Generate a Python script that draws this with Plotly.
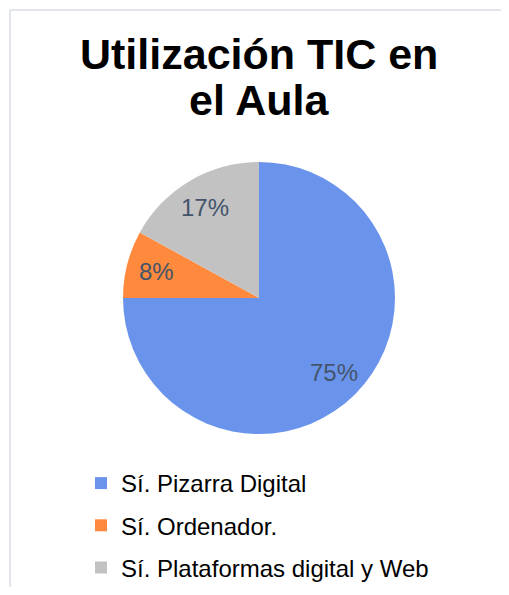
import math
import plotly.graph_objects as go

# Data
categories = ["Sí. Pizarra Digital", "Sí. Ordenador.", "Sí. Plataformas digital y Web"]
values = [75, 8, 17]
colors = ["#6A94EC", "#FF8A3E", "#C2C2C2"]
title_lines = ["Utilización TIC en", "el Aula"]

# Figure size (the page adds an 8px body margin on every side)
W, H = 493, 579
cx, cy, r = 251, 290, 136          # pie centre / radius in figure pixels
FONT = "Liberation Sans, Arial, sans-serif"

def px(x):
    return x / W

def py(y):
    return 1 - y / H

fig = go.Figure()

fig.add_trace(go.Pie(
    labels=categories,
    values=values,
    marker=dict(colors=colors, line=dict(width=0)),
    sort=False,
    direction="clockwise",
    rotation=0,
    textinfo="none",
    showlegend=False,
    hoverinfo="label+percent",
    domain=dict(x=[px(cx - r), px(cx + r)], y=[py(cy + r), py(cy - r)]),
))

# Data labels placed at 77.5% of the radius along each slice's mid-angle
total = sum(values)
annotations = []
cum = 0
for v in values:
    mid = (cum + v / 2) / total * 2 * math.pi
    cum += v
    lx = cx + 0.775 * r * math.sin(mid)
    ly = cy - 0.775 * r * math.cos(mid)
    annotations.append(dict(
        x=px(lx), y=py(ly), xref="paper", yref="paper",
        text=f"{round(v / total * 100)}%", showarrow=False,
        xanchor="center", yanchor="middle",
        font=dict(family=FONT, size=24, color="#44546A"),
    ))

# Title, two lines
for i, (line, yc) in enumerate(zip(title_lines, [46, 92])):
    annotations.append(dict(
        x=px(250.5), y=py(yc), xref="paper", yref="paper",
        text=f"<b>{line}</b>", showarrow=False,
        xanchor="center", yanchor="middle",
        font=dict(family=FONT, size=43, color="#000000"),
    ))

# Legend entries (one group per category to control row spacing)
for i, (cat, col) in enumerate(zip(categories, colors)):
    fig.add_trace(go.Scatter(
        x=[None], y=[None], mode="markers", name=cat,
        marker=dict(symbol="square", size=12, color=col),
        legendgroup=f"g{i}", showlegend=True, hoverinfo="skip",
    ))

frame = dict(color="#D9DEE6", width=1.5)

fig.update_layout(
    width=W, height=H,
    margin=dict(l=0, r=0, t=0, b=0, autoexpand=False),
    paper_bgcolor="white", plot_bgcolor="white",
    xaxis=dict(visible=False),
    yaxis=dict(visible=False),
    annotations=annotations,
    legend=dict(
        x=px(73), xanchor="left",
        y=py(453), yanchor="top",
        font=dict(family=FONT, size=24, color="#000000"),
        traceorder="grouped",
        tracegroupgap=8,
        bgcolor="rgba(0,0,0,0)",
    ),
    shapes=[
        dict(type="line", xref="paper", yref="paper",
             x0=px(2), x1=1.1, y0=py(2), y1=py(2), line=frame, layer="below"),
        dict(type="line", xref="paper", yref="paper",
             x0=px(2), x1=px(2), y0=py(2), y1=-0.1, line=frame, layer="below"),
    ],
)

fig.write_html("out.html")
